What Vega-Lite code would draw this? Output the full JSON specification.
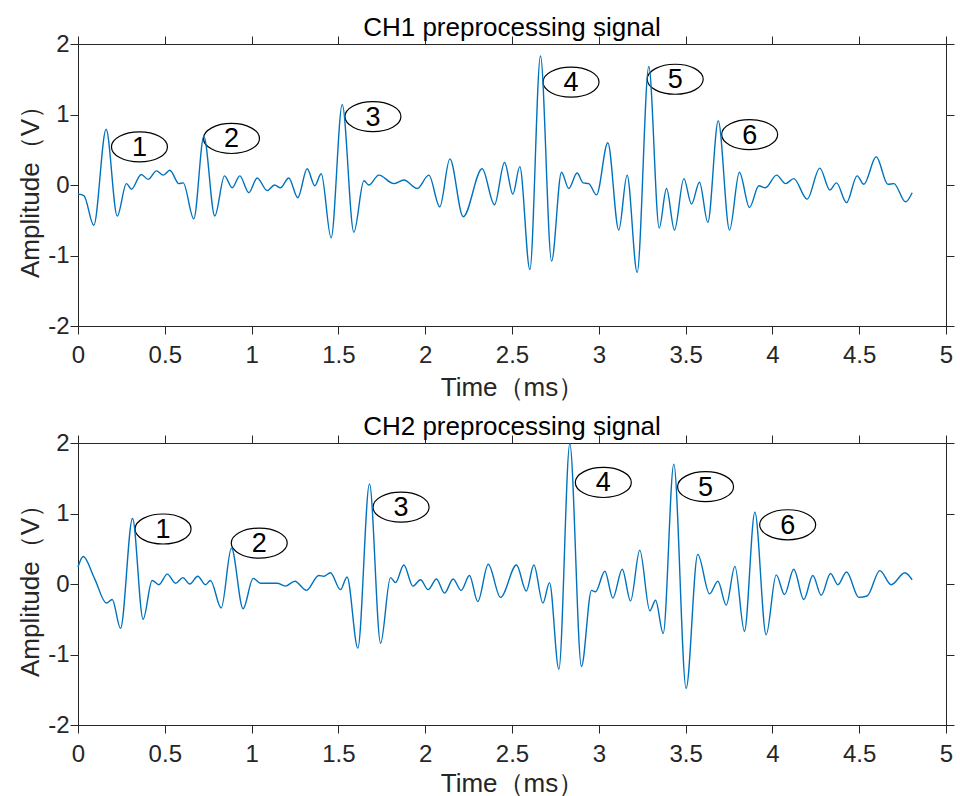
{
  "$schema": "https://vega.github.io/schema/vega-lite/v6.json",
  "autosize": {"type": "pad"},
  "padding": {"left": 16, "top": 14, "right": 4, "bottom": 0},
  "background": "white",
  "spacing": 117,
  "bounds": "flush",
  "datasets": {
    "ch1": [
      {"t":0,"v":-0.13},{"t":0.034,"v":-0.15},{"t":0.091,"v":-0.57},{"t":0.162,"v":0.79},{"t":0.226,"v":-0.44},
      {"t":0.279,"v":0.02},{"t":0.308,"v":-0.06},{"t":0.364,"v":0.15},{"t":0.404,"v":0.08},{"t":0.452,"v":0.20},
      {"t":0.491,"v":0.14},{"t":0.529,"v":0.21},{"t":0.581,"v":0.02},{"t":0.606,"v":0.03},{"t":0.667,"v":-0.48},
      {"t":0.725,"v":0.69},{"t":0.788,"v":-0.44},{"t":0.844,"v":0.13},{"t":0.888,"v":-0.04},{"t":0.932,"v":0.13},
      {"t":0.984,"v":-0.11},{"t":1.032,"v":0.10},{"t":1.090,"v":-0.08},{"t":1.132,"v":0.00},{"t":1.166,"v":-0.04},
      {"t":1.214,"v":0.10},{"t":1.266,"v":-0.18},{"t":1.320,"v":0.23},{"t":1.364,"v":-0.01},{"t":1.401,"v":0.16},
      {"t":1.458,"v":-0.75},{"t":1.522,"v":1.14},{"t":1.589,"v":-0.67},{"t":1.647,"v":0.06},{"t":1.675,"v":0.0},
      {"t":1.733,"v":0.14},{"t":1.819,"v":0.02},{"t":1.877,"v":0.07},{"t":1.954,"v":-0.05},{"t":2.021,"v":0.14},
      {"t":2.084,"v":-0.31},{"t":2.142,"v":0.37},{"t":2.219,"v":-0.45},{"t":2.328,"v":0.23},{"t":2.399,"v":-0.28},
      {"t":2.457,"v":0.32},{"t":2.505,"v":-0.13},{"t":2.545,"v":0.26},{"t":2.603,"v":-1.20},{"t":2.664,"v":1.83},
      {"t":2.728,"v":-1.08},{"t":2.785,"v":0.18},{"t":2.827,"v":-0.05},{"t":2.875,"v":0.17},{"t":2.910,"v":0.03},
      {"t":2.942,"v":0.02},{"t":2.987,"v":-0.14},{"t":3.052,"v":0.60},{"t":3.115,"v":-0.64},{"t":3.163,"v":0.14},
      {"t":3.221,"v":-1.24},{"t":3.288,"v":1.68},{"t":3.348,"v":-0.61},{"t":3.390,"v":-0.05},{"t":3.436,"v":-0.64},
      {"t":3.490,"v":0.09},{"t":3.534,"v":-0.27},{"t":3.580,"v":0.04},{"t":3.628,"v":-0.53},{"t":3.688,"v":0.91},
      {"t":3.753,"v":-0.64},{"t":3.810,"v":0.18},{"t":3.868,"v":-0.32},{"t":3.922,"v":-0.01},{"t":3.960,"v":-0.04},
      {"t":4.024,"v":0.14},{"t":4.076,"v":0.02},{"t":4.123,"v":0.09},{"t":4.200,"v":-0.20},{"t":4.273,"v":0.24},
      {"t":4.331,"v":-0.07},{"t":4.369,"v":0.03},{"t":4.427,"v":-0.25},{"t":4.488,"v":0.13},{"t":4.527,"v":0.01},
      {"t":4.598,"v":0.40},{"t":4.665,"v":0.01},{"t":4.700,"v":0.02},{"t":4.767,"v":-0.24},{"t":4.805,"v":-0.11}
    ],
    "ch2": [
      {"t":0,"v":0.24},{"t":0.030,"v":0.39},{"t":0.095,"v":0.08},{"t":0.164,"v":-0.27},{"t":0.197,"v":-0.22},
      {"t":0.245,"v":-0.63},{"t":0.314,"v":0.93},{"t":0.375,"v":-0.50},{"t":0.427,"v":0.05},{"t":0.466,"v":-0.01},
      {"t":0.514,"v":0.14},{"t":0.562,"v":0.01},{"t":0.604,"v":0.09},{"t":0.644,"v":0.0},{"t":0.690,"v":0.11},
      {"t":0.734,"v":-0.01},{"t":0.763,"v":0.05},{"t":0.825,"v":-0.34},{"t":0.884,"v":0.51},{"t":0.951,"v":-0.35},
      {"t":1.009,"v":0.08},{"t":1.051,"v":0.01},{"t":1.147,"v":0.01},{"t":1.195,"v":-0.03},{"t":1.249,"v":0.04},
      {"t":1.316,"v":-0.09},{"t":1.387,"v":0.12},{"t":1.416,"v":0.11},{"t":1.454,"v":0.16},{"t":1.512,"v":-0.08},
      {"t":1.550,"v":0.10},{"t":1.612,"v":-0.91},{"t":1.679,"v":1.42},{"t":1.743,"v":-0.84},{"t":1.800,"v":0.09},
      {"t":1.829,"v":0.02},{"t":1.877,"v":0.27},{"t":1.929,"v":-0.03},{"t":1.973,"v":0.06},{"t":2.017,"v":-0.08},
      {"t":2.065,"v":0.07},{"t":2.111,"v":-0.13},{"t":2.161,"v":0.07},{"t":2.207,"v":-0.09},{"t":2.255,"v":0.12},
      {"t":2.303,"v":-0.25},{"t":2.363,"v":0.28},{"t":2.434,"v":-0.19},{"t":2.526,"v":0.27},{"t":2.582,"v":-0.10},
      {"t":2.626,"v":0.27},{"t":2.678,"v":-0.27},{"t":2.716,"v":0.02},{"t":2.770,"v":-1.21},{"t":2.833,"v":1.99},
      {"t":2.900,"v":-1.17},{"t":2.958,"v":-0.09},{"t":2.981,"v":-0.11},{"t":3.035,"v":0.18},{"t":3.081,"v":-0.20},
      {"t":3.135,"v":0.21},{"t":3.183,"v":-0.24},{"t":3.236,"v":0.48},{"t":3.294,"v":-0.38},{"t":3.327,"v":-0.23},
      {"t":3.371,"v":-0.70},{"t":3.432,"v":1.70},{"t":3.503,"v":-1.48},{"t":3.570,"v":0.42},{"t":3.638,"v":-0.14},
      {"t":3.686,"v":0.04},{"t":3.734,"v":-0.30},{"t":3.784,"v":0.25},{"t":3.839,"v":-0.67},{"t":3.899,"v":1.02},
      {"t":3.964,"v":-0.72},{"t":4.022,"v":0.13},{"t":4.070,"v":-0.15},{"t":4.123,"v":0.21},{"t":4.181,"v":-0.22},
      {"t":4.233,"v":0.12},{"t":4.281,"v":-0.16},{"t":4.335,"v":0.15},{"t":4.377,"v":-0.01},{"t":4.427,"v":0.17},
      {"t":4.498,"v":-0.19},{"t":4.546,"v":-0.17},{"t":4.619,"v":0.19},{"t":4.684,"v":-0.01},{"t":4.763,"v":0.16},
      {"t":4.805,"v":0.06}
    ],
    "ann1": [
      {"n":"1","t":0.354,"v":0.54},{"n":"2","t":0.884,"v":0.66},{"n":"3","t":1.699,"v":0.97},
      {"n":"4","t":2.840,"v":1.46},{"n":"5","t":3.440,"v":1.50},{"n":"6","t":3.869,"v":0.715}
    ],
    "ann2": [
      {"n":"1","t":0.490,"v":0.78},{"n":"2","t":1.044,"v":0.58},{"n":"3","t":1.861,"v":1.09},
      {"n":"4","t":3.026,"v":1.44},{"n":"5","t":3.615,"v":1.38},{"n":"6","t":4.088,"v":0.84}
    ]
  },
  "vconcat": [
    {
      "width": 868, "height": 282,
      "title": {"text": "CH1 preprocessing signal"},
      "layer": [
        {
          "data": {"name": "ann1"},
          "mark": {"type": "point", "shape": "M-1,0A1,0.536,0,1,0,1,0A1,0.536,0,1,0,-1,0Z", "size": 3136, "filled": false, "color": "black", "strokeWidth": 1.2, "opacity": 1},
          "encoding": {
            "x": {"field": "t", "type": "quantitative", "scale": {"domain": [0, 5], "nice": false, "zero": false},
                  "axis": {"orient": "top", "labels": false, "title": null, "values": [0,0.5,1,1.5,2,2.5,3,3.5,4,4.5,5], "encode": {"ticks": {"y2": {"value": 8}}}}},
            "y": {"field": "v", "type": "quantitative", "scale": {"domain": [-2, 2], "nice": false},
                  "axis": {"orient": "right", "labels": false, "title": null, "values": [-2,-1,0,1,2], "encode": {"ticks": {"x2": {"value": -8}}}}}
          }
        },
        {
          "data": {"name": "ann1"},
          "mark": {"type": "text", "fontSize": 27, "font": "Liberation Sans", "color": "black", "baseline": "middle", "dy": 1},
          "encoding": {
            "x": {"field": "t", "type": "quantitative", "axis": null},
            "y": {"field": "v", "type": "quantitative", "axis": null},
            "text": {"field": "n"}
          }
        },
        {
          "data": {"name": "ch1"},
          "mark": {"type": "line", "interpolate": "monotone", "color": "#0072BD", "strokeWidth": 1.4},
          "encoding": {
            "x": {"field": "t", "type": "quantitative", "scale": {"domain": [0, 5], "nice": false, "zero": false},
                  "axis": {"orient": "bottom", "title": "Time（ms）", "values": [0,0.5,1,1.5,2,2.5,3,3.5,4,4.5,5], "labelExpr": "'' + datum.value", "labelPadding": 9, "titleX": 434, "titleY": 69, "titleBaseline": "alphabetic", "encode": {"ticks": {"y2": {"value": -8}}}}},
            "y": {"field": "v", "type": "quantitative", "scale": {"domain": [-2, 2], "nice": false},
                  "axis": {"orient": "left", "title": "Amplitude（V）", "values": [-2,-1,0,1,2], "labelExpr": "'' + datum.value", "labelPadding": 1, "titleX": -40, "titleY": 141, "titleBaseline": "alphabetic", "encode": {"ticks": {"x2": {"value": 8}}}}}
          }
        }
      ]
    },
    {
      "width": 868, "height": 282,
      "title": {"text": "CH2 preprocessing signal"},
      "layer": [
        {
          "data": {"name": "ann2"},
          "mark": {"type": "point", "shape": "M-1,0A1,0.536,0,1,0,1,0A1,0.536,0,1,0,-1,0Z", "size": 3136, "filled": false, "color": "black", "strokeWidth": 1.2, "opacity": 1},
          "encoding": {
            "x": {"field": "t", "type": "quantitative", "scale": {"domain": [0, 5], "nice": false, "zero": false},
                  "axis": {"orient": "top", "labels": false, "title": null, "values": [0,0.5,1,1.5,2,2.5,3,3.5,4,4.5,5], "encode": {"ticks": {"y2": {"value": 8}}}}},
            "y": {"field": "v", "type": "quantitative", "scale": {"domain": [-2, 2], "nice": false},
                  "axis": {"orient": "right", "labels": false, "title": null, "values": [-2,-1,0,1,2], "encode": {"ticks": {"x2": {"value": -8}}}}}
          }
        },
        {
          "data": {"name": "ann2"},
          "mark": {"type": "text", "fontSize": 27, "font": "Liberation Sans", "color": "black", "baseline": "middle", "dy": 1},
          "encoding": {
            "x": {"field": "t", "type": "quantitative", "axis": null},
            "y": {"field": "v", "type": "quantitative", "axis": null},
            "text": {"field": "n"}
          }
        },
        {
          "data": {"name": "ch2"},
          "mark": {"type": "line", "interpolate": "monotone", "color": "#0072BD", "strokeWidth": 1.4},
          "encoding": {
            "x": {"field": "t", "type": "quantitative", "scale": {"domain": [0, 5], "nice": false, "zero": false},
                  "axis": {"orient": "bottom", "title": "Time（ms）", "values": [0,0.5,1,1.5,2,2.5,3,3.5,4,4.5,5], "labelExpr": "'' + datum.value", "labelPadding": 9, "titleX": 434, "titleY": 66, "titleBaseline": "alphabetic", "encode": {"ticks": {"y2": {"value": -8}}}}},
            "y": {"field": "v", "type": "quantitative", "scale": {"domain": [-2, 2], "nice": false},
                  "axis": {"orient": "left", "title": "Amplitude（V）", "values": [-2,-1,0,1,2], "labelExpr": "'' + datum.value", "labelPadding": 1, "titleX": -40, "titleY": 141, "titleBaseline": "alphabetic", "encode": {"ticks": {"x2": {"value": 8}}}}}
          }
        }
      ]
    }
  ],
  "config": {
    "font": "Liberation Sans",
    "view": {"stroke": "#262626", "strokeWidth": 1},
    "axis": {
      "domainColor": "#262626", "tickColor": "#262626", "labelColor": "#262626", "titleColor": "#262626",
      "labelFont": "Liberation Sans", "titleFont": "Liberation Sans", "labelFontSize": 24, "titleFontSize": 26,
      "titleFontWeight": "normal", "grid": false, "tickSize": 8, "domainWidth": 1, "tickWidth": 1,
      "labelFlush": false, "labelOverlap": false
    },
    "title": {"font": "Liberation Sans", "fontSize": 26, "fontWeight": "normal", "color": "black", "baseline": "bottom", "offset": -9, "frame": "group", "anchor": "middle"}
  }
}
